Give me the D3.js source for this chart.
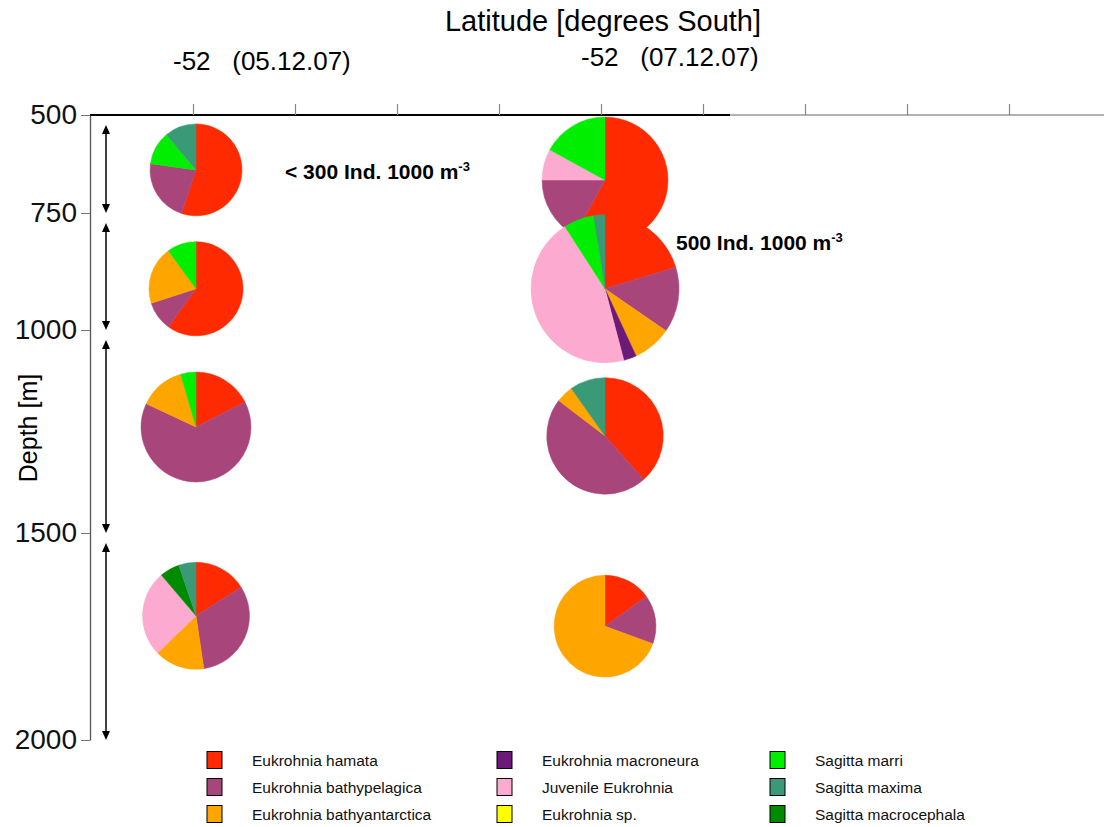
<!DOCTYPE html>
<meta charset="utf-8">
<style>
  body { margin: 0; background: #fff; }
  text { font-family: "Liberation Sans", Arial, sans-serif; }
</style>
<svg width="1104" height="827"></svg>
<script src="https://cdn.jsdelivr.net/npm/d3@7/dist/d3.min.js"></script>
<script>

// species in legend order
var species = ["Eukrohnia hamata", "Eukrohnia bathypelagica", "Eukrohnia bathyantarctica",
               "Eukrohnia macroneura", "Juvenile Eukrohnia", "Eukrohnia sp.",
               "Sagitta marri", "Sagitta maxima", "Sagitta macrocephala"];
var colors = ["#ff2a00", "#a8457a", "#ffa500", "#6b1a78", "#fcaad0", "#ffff00",
              "#00ee00", "#3a9a78", "#008a00"];
// order of slices clockwise from 12 o'clock
var sliceOrder = [0, 1, 2, 3, 4, 5, 6, 8, 7];

var depthTicks = [500, 750, 1000, 1500, 2000];
var depthIntervals = [[500, 750], [750, 1000], [1000, 1500], [1500, 2000]];
var latTicks = d3.range(9);
var stations = [0, 4];
var stationLabels = ["-52   (05.12.07)", "-52   (07.12.07)"];

// sample depth (plot position), abundance (Ind. 1000 m-3), composition in %
var depth0507 = [640, 912, 1239, 1700];
var depth0707 = [666, 912, 1261, 1725];
var abund0507 = [193, 202, 276, 261];
var abund0707 = [362, 500, 310, 237];
var comp0507 = [
  [55, 22, 0, 0, 0, 0, 11.7, 11.1, 0],
  [60, 10, 20, 0, 0, 0, 10, 0, 0],
  [17.5, 64.5, 13.5, 0, 0, 0, 4.5, 0, 0],
  [16, 31.6, 15.1, 0, 26, 0, 0, 5.2, 6]
];
var comp0707 = [
  [58, 17, 0, 0, 8, 0, 17, 0, 0],
  [20.3, 14.3, 8.5, 2.8, 45, 0, 6.7, 2.4, 0],
  [38.4, 46.9, 4.8, 0, 0, 0, 0, 9.8, 0],
  [15.1, 15.5, 69.4, 0, 0, 0, 0, 0, 0]
];

var svg = d3.select("svg");

var x = d3.scaleLinear().domain([0, 8]).range([193, 1009]);
var y = d3.scaleLinear().domain(depthTicks).range([115, 213, 330, 533, 740]);
var r = d3.scaleSqrt().domain([0, 500]).range([0, 74]);

// titles
svg.append("text").attr("x", 603).attr("y", 31).attr("text-anchor", "middle")
  .style("font-size", "29px").text("Latitude [degrees South]");

stationLabels.forEach(function(t, i) {
  svg.append("text").attr("x", x(stations[i]) - 20).attr("y", i == 0 ? 70 : 66)
    .style("font-size", "26px").attr("xml:space", "preserve").text(t);
});

svg.append("text")
  .attr("transform", "translate(37,428) rotate(-90)")
  .attr("text-anchor", "middle")
  .style("font-size", "25px").text("Depth [m]");

// top axis
svg.append("line").attr("x1", 90).attr("x2", 730).attr("y1", 115).attr("y2", 115)
  .attr("stroke", "#000").attr("stroke-width", 2);
svg.append("line").attr("x1", 730).attr("x2", 1104).attr("y1", 115).attr("y2", 115)
  .attr("stroke", "#999").attr("stroke-width", 1.5);

var gx = svg.append("g").attr("transform", "translate(0,115)")
  .call(d3.axisTop(x).tickValues(latTicks).tickFormat("").tickSizeInner(11).tickSizeOuter(0));
gx.select(".domain").remove();
gx.selectAll(".tick line").attr("stroke", "#888").attr("stroke-width", 1.2);

// left axis
var gy = svg.append("g").attr("transform", "translate(90,0)")
  .call(d3.axisLeft(y).tickValues(depthTicks).tickFormat(d3.format("d"))
    .tickSizeInner(9).tickSizeOuter(0).tickPadding(4));
gy.select(".domain").attr("stroke", "#555").attr("stroke-width", 1.3);
gy.selectAll(".tick line").attr("stroke", "#777");
gy.selectAll(".tick text").style("font-size", "28px")
  .style("font-family", "'Liberation Sans', Arial, sans-serif").attr("fill", "#111");

// depth interval arrows
var ax = 106;
var arrows = svg.append("g");
depthIntervals.forEach(function(d) {
  var y0 = y(d[0]) + 10, y1 = y(d[1]);
  arrows.append("line").attr("x1", ax).attr("x2", ax).attr("y1", y0 + 6).attr("y2", y1 - 6)
    .attr("stroke", "#000").attr("stroke-width", 1.5);
  arrows.append("path").attr("d", "M" + ax + "," + y0 + "l-4,9h8z").attr("fill", "#000");
  arrows.append("path").attr("d", "M" + ax + "," + y1 + "l-4,-9h8z").attr("fill", "#000");
});

// pies
var pie = d3.pie().sort(null).value(function(d) { return d.v; });
var arc = d3.arc().innerRadius(0);

function drawStation(si, depths, abund, comp) {
  depths.forEach(function(dp, k) {
    var cx = x(stations[si]) + 3 + si, cy = y(dp);
    var slices = sliceOrder.map(function(j) { return {s: j, v: comp[k][j]}; })
      .filter(function(d) { return d.v > 0; });
    var rad = r(abund[k]);
    svg.append("g").attr("transform", "translate(" + cx + "," + cy + ")")
      .selectAll("path").data(pie(slices)).enter().append("path")
      .attr("d", arc.outerRadius(rad))
      .attr("fill", function(d) { return colors[d.data.s]; })
      .attr("stroke", function(d) { return colors[d.data.s]; })
      .attr("stroke-width", 0.5);
  });
}
drawStation(0, depth0507, abund0507, comp0507);
drawStation(1, depth0707, abund0707, comp0707);

// size annotations
function annot(xp, yp, main) {
  var t = svg.append("text").attr("x", xp).attr("y", yp)
    .style("font-size", "21px").style("font-weight", "bold");
  t.append("tspan").text(main);
  t.append("tspan").attr("dy", -8).style("font-size", "13px").text("-3");
}
annot(285, 179, "< 300 Ind. 1000 m");
annot(676, 250, "500 Ind. 1000 m");

// legend
var legCols = [207, 497, 770];
var legRows = [760, 787, 814];
var leg = svg.append("g");
species.forEach(function(s, i) {
  var c = Math.floor(i / 3), rw = i % 3;
  leg.append("rect").attr("x", legCols[c]).attr("y", legRows[rw] - 8.5)
    .attr("width", 15).attr("height", 17)
    .attr("fill", colors[i]).attr("stroke", "#000").attr("stroke-width", 1);
  leg.append("text").attr("x", legCols[c] + 45).attr("y", legRows[rw] + 5.5)
    .style("font-size", "15.5px").attr("fill", "#111").text(s);
});

</script>
